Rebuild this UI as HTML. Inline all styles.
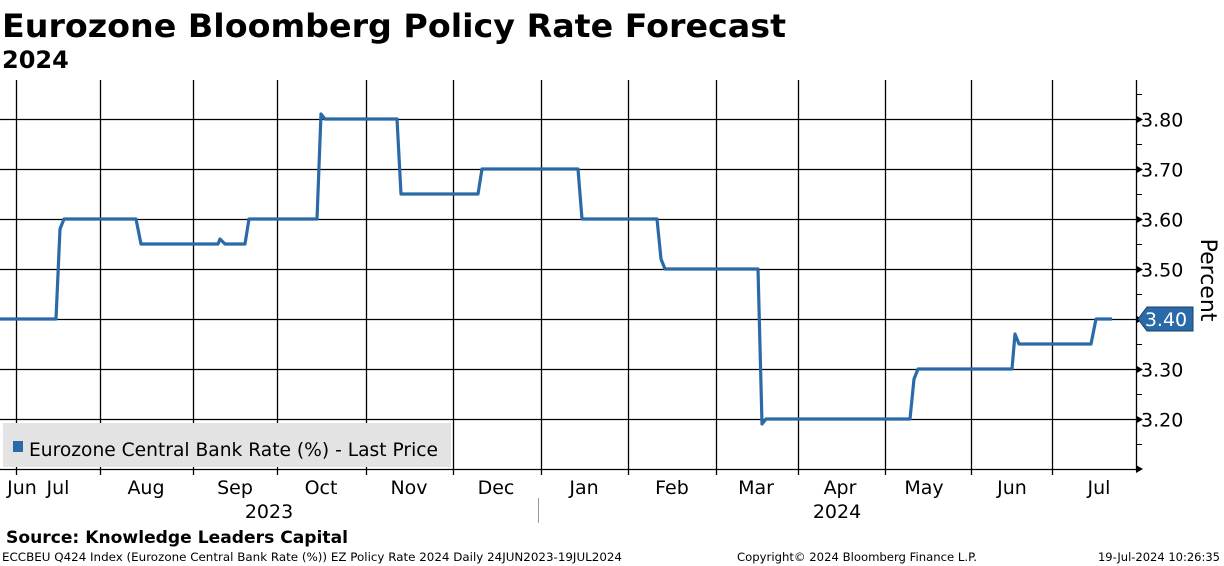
<!DOCTYPE html>
<html><head><meta charset="utf-8"><style>
html,body{margin:0;padding:0;background:#fff;}
svg{display:block;font-family:"DejaVu Sans","Liberation Sans",sans-serif;}
</style></head><body>
<svg id="chart" width="1224" height="566" viewBox="0 0 1224 566">
<text x="2" y="37" font-size="32" font-weight="bold" textLength="784" lengthAdjust="spacingAndGlyphs">Eurozone Bloomberg Policy Rate Forecast</text>
<text x="2" y="68" font-size="24" font-weight="bold">2024</text>
<g id="grid"></g>
<g id="axes"></g>
<g id="series"></g>
<g>
<rect x="3" y="423" width="448" height="44" fill="#e3e3e3"/>
<rect x="13" y="441" width="10" height="11" fill="#2b6aa8"/>
<text x="29" y="456" font-size="19" textLength="409" lengthAdjust="spacingAndGlyphs">Eurozone Central Bank Rate (%) - Last Price</text>
</g>
<text transform="translate(1201,280) rotate(90)" font-size="22" text-anchor="middle">Percent</text>
<g>
<polygon id="tagpoly" fill="#2b6aa8" stroke="#1a3f66" stroke-width="1"/>
<text id="tagtext" x="1166" font-size="19" fill="#fff" text-anchor="middle"></text>
</g>
<text x="269" y="518" font-size="19" text-anchor="middle">2023</text>
<text x="837" y="518" font-size="19" text-anchor="middle">2024</text>
<line x1="538.5" y1="498" x2="538.5" y2="523" stroke="#999" stroke-width="1"/>
<text x="6" y="543" font-size="17" font-weight="bold" textLength="342" lengthAdjust="spacingAndGlyphs">Source: Knowledge Leaders Capital</text>
<text x="2" y="561" font-size="11.5" textLength="620" lengthAdjust="spacingAndGlyphs">ECCBEU Q424 Index (Eurozone Central Bank Rate (%)) EZ Policy Rate 2024  Daily 24JUN2023-19JUL2024</text>
<text x="737" y="561" font-size="11.5" textLength="240" lengthAdjust="spacingAndGlyphs">Copyright© 2024 Bloomberg Finance L.P.</text>
<text x="1220" y="561" font-size="11.5" text-anchor="end">19-Jul-2024 10:26:35</text>
</svg>
<script>
const monthLabels = ["Jun","Jul","Aug","Sep","Oct","Nov","Dec","Jan","Feb","Mar","Apr","May","Jun","Jul"];
const monthLabelPos = [5.5,14.5,36.5,58.75,80.25,102.25,124,146,168,189,210,231,253,274.75];
const monthBoundaries = [4,25,48.25,69.25,91.5,113.25,135.25,157,179,199.5,221.25,242.75,263];
const yTicks = [3.20,3.30,3.40,3.50,3.60,3.70,3.80];
const yTickLabels = ["3.20","3.30","3.40","3.50","3.60","3.70","3.80"];
const seriesT = [0,14,15,16,34,35.25,54.5,55,56.25,61.25,62.25,79.25,80.25,81.25,99.25,100.25,119.5,120.5,144.5,145.5,164.25,165.25,166.25,189.5,190.5,191.5,227.5,228.5,229.5,253,253.75,254.75,272.75,274,278];
const seriesV = [3.40,3.40,3.58,3.60,3.60,3.55,3.55,3.56,3.55,3.55,3.60,3.60,3.81,3.80,3.80,3.65,3.65,3.70,3.70,3.60,3.60,3.52,3.50,3.50,3.19,3.20,3.20,3.28,3.30,3.30,3.37,3.35,3.35,3.40,3.40];

const NS="http://www.w3.org/2000/svg";
const X0=0, XR=1136, YT=80, YB=469;
function xs(t){return X0 + t*1112/278;}
function ys(v){return 119 + (3.80 - v)*500;}
function mk(tag, attrs, parent){const e=document.createElementNS(NS,tag);for(const k in attrs)e.setAttribute(k,attrs[k]);parent.appendChild(e);return e;}
const grid=document.getElementById('grid'), axes=document.getElementById('axes'), series=document.getElementById('series');

yTicks.forEach((v,i)=>{
  const y=Math.round(ys(v))+0.5;
  const l=mk('line',{x1:0,y1:y,x2:XR,y2:y,stroke:'#000','stroke-width':1.3},grid);
  
  
  const p=mk('polygon',{points:`${XR},${y-4} ${XR+7},${y} ${XR},${y+4}`,fill:'#000'},axes);
  const t=mk('text',{x:1141,y:y+7,'font-size':19},axes);
  t.textContent=yTickLabels[i];
  
  
});
for(let v=3.15; v<3.86; v+=0.1){const y=Math.round(ys(v))+0.5;mk('line',{x1:XR,y1:y,x2:XR+6,y2:y,stroke:'#000','stroke-width':1},axes);}
mk('polygon',{points:`${XR},${YB-4} ${XR+7},${YB} ${XR},${YB+4}`,fill:'#000'},axes);
monthBoundaries.forEach(t=>{
  const x=Math.round(xs(t))+0.5;
  const l=mk('line',{x1:x,y1:YT,x2:x,y2:YB+6,stroke:'#000','stroke-width':1.3},grid);
  
  
});
monthLabels.forEach((m,i)=>{
  const t=mk('text',{x:xs(monthLabelPos[i]),y:494,'font-size':19,'text-anchor':'middle'},axes);
  t.textContent=m;
  
  
});
mk('line',{x1:XR+0.5,y1:YT,x2:XR+0.5,y2:YB+2,stroke:'#000','stroke-width':1.3},axes);
mk('line',{x1:0,y1:YB+0.5,x2:XR,y2:YB+0.5,stroke:'#000','stroke-width':1.3},axes);

const pts=seriesT.map((t,i)=>xs(t).toFixed(1)+','+ys(seriesV[i]).toFixed(1)).join(' ');
const line=mk('polyline',{points:pts,fill:'none',stroke:'#2b6aa8','stroke-width':3.2,'stroke-linejoin':'round'},series);



const lastV=seriesV[seriesV.length-1], ly=ys(lastV);
document.getElementById('tagpoly').setAttribute('points',`1138,${ly} 1147,${ly-12} 1193,${ly-12} 1193,${ly+12} 1147,${ly+12}`);
const tt=document.getElementById('tagtext');
tt.setAttribute('y',ly+7);
tt.textContent=lastV.toFixed(2);
</script>
</body></html>
